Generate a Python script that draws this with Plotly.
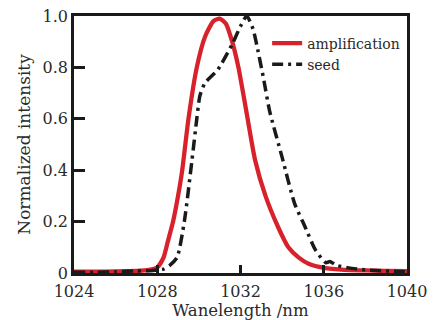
import plotly.graph_objects as go

amp_wl = [1024, 1025, 1026, 1027, 1027.6, 1028.0, 1028.3, 1028.5, 1028.76, 1029.0, 1029.2, 1029.5,
          1029.9, 1030.3, 1030.7, 1031.0, 1031.3, 1031.6, 1031.9, 1032.3, 1032.7, 1033.2, 1033.8,
          1034.3, 1034.8, 1035.3, 1036.0, 1037.0, 1038.0, 1039.0, 1040.0]
amp_val = [0.005, 0.005, 0.006, 0.008, 0.012, 0.022, 0.06, 0.12, 0.2, 0.3, 0.4, 0.6,
           0.8, 0.92, 0.98, 0.99, 0.97, 0.9, 0.8, 0.62, 0.44, 0.3, 0.18,
           0.1, 0.06, 0.035, 0.02, 0.012, 0.01, 0.008, 0.007]

seed_wl = [1024, 1025, 1026, 1027, 1027.8, 1028.3, 1028.6, 1028.95, 1029.3, 1029.67, 1029.9, 1030.05,
           1030.3, 1030.9, 1031.6, 1032.0, 1032.3, 1032.6, 1032.8, 1033.1, 1033.4, 1034.0, 1034.6,
           1035.1, 1035.6, 1036.1, 1036.3, 1036.6, 1037.2, 1038.0, 1039.0, 1040.0]
seed_val = [0.003, 0.003, 0.005, 0.008, 0.01, 0.015, 0.03, 0.06, 0.2, 0.44, 0.6, 0.69,
            0.74, 0.79, 0.89, 0.96, 1.0, 0.95, 0.88, 0.76, 0.63, 0.45, 0.27,
            0.18, 0.09, 0.04, 0.045, 0.03, 0.02, 0.012, 0.008, 0.005]

x_ticks = [1024, 1028, 1032, 1036, 1040]
y_ticks = [0, 0.2, 0.4, 0.6, 0.8, 1.0]
y_tick_text = ["0", "0.2", "0.4", "0.6", "0.8", "1.0"]

FONT = "'DejaVu Serif', serif"
TXT = "#2a2a2a"

fig = go.Figure()
fig.add_trace(go.Scatter(x=amp_wl, y=amp_val, mode="lines", name="amplification",
                         line=dict(color="#d8222b", width=4.3, shape="spline", smoothing=0.6)))
fig.add_trace(go.Scatter(x=seed_wl, y=seed_val, mode="lines", name="seed",
                         line=dict(color="#1a1a1a", width=3.5, shape="spline", smoothing=0.6,
                                   dash="11px,5px,3px,5px")))

axis_common = dict(showline=True, linecolor="#1a1a1a", linewidth=2.5, mirror=True,
                   ticks="inside", tickcolor="#1a1a1a", tickwidth=2.5, showgrid=False,
                   zeroline=False, automargin=False,
                   tickfont=dict(family=FONT, size=16, color=TXT))

fig.update_xaxes(range=[1024, 1040], tickvals=x_ticks, ticklen=8, ticklabelstandoff=2,
                 title=dict(text="Wanelength /nm", font=dict(family=FONT, size=16.5, color=TXT),
                            standoff=0), **axis_common)
fig.update_yaxes(range=[0, 1.0], tickvals=y_ticks, ticktext=y_tick_text, ticklen=11,
                 title=dict(text="Normalized intensity", font=dict(family=FONT, size=17, color=TXT),
                            standoff=8), **axis_common)

fig.update_layout(
    width=435, height=320,
    margin=dict(l=74, r=28, t=16, b=47, autoexpand=False),
    paper_bgcolor="white", plot_bgcolor="white",
    showlegend=True,
    legend=dict(x=0.58, y=0.955, xanchor="left", yanchor="top", bgcolor="rgba(0,0,0,0)",
                font=dict(family=FONT, size=14, color=TXT), tracegroupgap=0,
                itemwidth=30),
)

fig.write_html("out.html")
